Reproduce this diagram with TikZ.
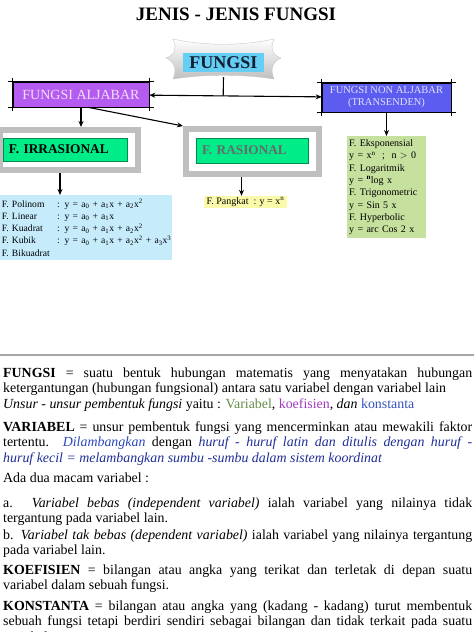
\documentclass[tikz,border=0pt]{standalone}
\usepackage{fontspec}
\setmainfont{Liberation Serif}
\usetikzlibrary{arrows.meta,calc}

\definecolor{funblue}{RGB}{100,206,245}
\definecolor{aljpurple}{RGB}{180,92,240}
\definecolor{aljtext}{RGB}{246,222,250}
\definecolor{transblue}{RGB}{92,92,240}
\definecolor{transtext}{RGB}{226,226,255}
\definecolor{tagfill}{RGB}{0,236,136}
\definecolor{tagedge}{RGB}{0,140,80}
\definecolor{ratgray}{RGB}{105,105,105}
\definecolor{algblue}{RGB}{198,236,252}
\definecolor{powyellow}{RGB}{250,250,170}
\definecolor{transgreen}{RGB}{198,224,158}
\definecolor{varcol}{RGB}{100,140,70}
\definecolor{koefcol}{RGB}{160,60,190}
\definecolor{konscol}{RGB}{50,80,190}
\definecolor{symcol}{RGB}{40,70,190}
\definecolor{navycol}{RGB}{30,45,150}
\hyphenpenalty=10000
\exhyphenpenalty=10000

\begin{document}
\begin{tikzpicture}[
  x=1pt, y=-1pt,
  >={Stealth[length=6pt,width=5pt]},
  link/.style={->,line width=1.1pt},
  wire/.style={line width=1.1pt},
  cropbox/.style={draw,line width=0.6pt,align=center,inner sep=2pt},
  framebox/.style={draw=gray!50,line width=6pt},
  tagbox/.style={draw=tagedge,line width=0.6pt,fill=tagfill,inner xsep=6pt,align=left,
    font=\fontsize{13.3}{15}\selectfont\bfseries},
  listbox/.style={anchor=north west,inner sep=2pt,align=left,font=\fontsize{10}{12.3}\selectfont},
  para/.style={anchor=north west,inner sep=0pt,text width=469pt,align=justify,
    font=\fontsize{13.9}{15.5}\selectfont}
]
\useasboundingbox (0,0) rectangle (474,632);

\node[font=\fontsize{19}{22}\selectfont\bfseries] (title) at (236,14) {JENIS - JENIS FUNGSI};

% plaque behind FUNGSI
\shade[top color=white,bottom color=gray!50,draw=gray!45,line width=0.4pt]
  (173,39) .. controls (205,46) and (242,46) .. (274,39)
  .. controls (270,48) and (272,55) .. (281,58)
  .. controls (272,62) and (270,70) .. (274,79)
  .. controls (242,74) and (205,74) .. (173,79)
  .. controls (177,70) and (175,62) .. (166,58)
  .. controls (175,55) and (177,48) .. (173,39) -- cycle;
\node[fill=funblue,minimum width=81pt,minimum height=19pt,inner sep=0pt,
  text={rgb,255:red,20;green,30;blue,50},font=\fontsize{18}{19}\selectfont\bfseries] (fun) at (223.5,62.5) {FUNGSI};

\node[cropbox,fill=aljpurple,text=aljtext,minimum width=136pt,minimum height=25pt,
  font=\fontsize{14}{16}\selectfont] (alj) at (81,94.5) {FUNGSI ALJABAR};
\node[cropbox,fill=transblue,text=transtext,minimum width=129pt,minimum height=29pt,
  font=\fontsize{10.5}{12}\selectfont] (nonalj) at (386.5,97.5) {FUNGSI NON ALJABAR\\(TRANSENDEN)};
\foreach \b in {alj,nonalj}{
  \draw[line width=0.6pt] ([xshift=-5pt]\b.north west) -- ([xshift=5pt]\b.north east);
  \draw[line width=0.6pt] ([xshift=-5pt]\b.south west) -- ([xshift=5pt]\b.south east);
  \draw[line width=0.6pt] ([yshift=4pt]\b.north west) -- ([yshift=-4pt]\b.south west);
  \draw[line width=0.6pt] ([yshift=4pt]\b.north east) -- ([yshift=-4pt]\b.south east);
}

\node[framebox,minimum width=138pt,minimum height=40pt] (irrF) at (69,150) {};
\node[tagbox,text width=112pt,minimum height=23pt] (irr) at (65,149.5) {F. IRRASIONAL};
\node[framebox,minimum width=133pt,minimum height=45pt] (ratF) at (252.5,151.5) {};
\node[tagbox,text=ratgray,text width=100pt,minimum height=25pt] (rat) at (252,150.5) {F. RASIONAL};

\node[listbox,fill=algblue,text width=172pt,inner xsep=0pt,minimum height=65pt,
  font=\fontsize{9.6}{12.3}\selectfont] (alg) at (0,195) {%
  \makebox[57pt][l]{\,F. Polinom}: y = a\textsubscript{0} + a\textsubscript{1}x + a\textsubscript{2}x\textsuperscript{2}\\
  \makebox[57pt][l]{\,F. Linear}: y = a\textsubscript{0} + a\textsubscript{1}x\\
  \makebox[57pt][l]{\,F. Kuadrat}: y = a\textsubscript{0} + a\textsubscript{1}x + a\textsubscript{2}x\textsuperscript{2}\\
  \makebox[57pt][l]{\,F. Kubik}: y = a\textsubscript{0} + a\textsubscript{1}x + a\textsubscript{2}x\textsuperscript{2} + a\textsubscript{3}x\textsuperscript{3}\\
  \,F. Bikuadrat};
\node[fill=powyellow,inner sep=1pt,minimum width=83pt,minimum height=12pt,
  font=\fontsize{10}{12}\selectfont] (pow) at (245.5,202) {F. Pangkat~~: y = x\textsuperscript{n}};
\node[listbox,fill=transgreen,text width=75pt,minimum height=102pt] (trans) at (347,136) {%
  F. Eksponensial\\
  y = x\textsuperscript{n} ~;~ n $>$ 0\\
  F. Logaritmik\\
  y = \textsuperscript{\textbf{n}}log x\\
  F. Trigonometric\\
  y = Sin 5 x\\
  F. Hyperbolic\\
  y = arc Cos 2 x};

\draw[wire] ([yshift=-5pt]fun.south) -- ($(alj.east)!([yshift=-5pt]fun.south)!(nonalj.west)$);
\draw[link,<->] (alj) -- (nonalj);
\draw[link] (alj.south) -- (alj.south |- irrF.north);
\draw[link] ([xshift=7pt]alj.south) -- (ratF.north west);
\draw[link] (nonalj) -- (nonalj |- trans.north);
\draw[link] ([xshift=-9pt]irrF.south) -- ([xshift=-9pt]irrF.south |- alg.north);
\draw[link] ([xshift=-11pt]ratF.south) -- ([xshift=-11pt]ratF.south |- pow.north);

\draw[gray!70,line width=1.2pt] (0,355) -- (474,355);

\node[para] (pFungsi) at (3,367.5) {\textbf{FUNGSI} = suatu bentuk hubungan matematis yang menyatakan hubungan\linebreak
  ketergantungan (hubungan fungsional) antara satu variabel dengan variabel lain\newline
  \textit{Unsur - unsur pembentuk fungsi} yaitu : \textcolor{varcol}{Variabel}, \textcolor{koefcol}{koefisien}, \textit{dan} \textcolor{konscol}{konstanta}};
\node[para] (pVar) at (3,421.5) {\textbf{VARIABEL} = unsur pembentuk fungsi yang mencerminkan atau mewakili faktor\linebreak
  tertentu. \textcolor{symcol}{\textit{Dilambangkan}} dengan \textcolor{navycol}{\textit{huruf - huruf latin dan ditulis dengan huruf -\linebreak
  huruf kecil = melambangkan sumbu -sumbu dalam sistem koordinat}}};
\node[para] (pAda) at (3,472.5) {Ada dua macam variabel :};
\node[para] (pBebas) at (3,497.5) {a. \textit{Variabel bebas (independent variabel)} ialah variabel yang nilainya tidak\linebreak
  tergantung pada variabel lain.};
\node[para] (pTakBebas) at (3,529.5) {b. \textit{Variabel tak bebas (dependent variabel)} ialah variabel yang nilainya tergantung\linebreak
  pada variabel lain.};
\node[para] (pKoef) at (3,564.5) {\textbf{KOEFISIEN} = bilangan atau angka yang terikat dan terletak di depan suatu\linebreak
  variabel dalam sebuah fungsi.};
\node[para] (pKons) at (3,600.5) {\textbf{KONSTANTA} = bilangan atau angka yang (kadang - kadang) turut membentuk\linebreak
  sebuah fungsi tetapi berdiri sendiri sebagai bilangan dan tidak terkait pada suatu\linebreak
  variabel.};

\end{tikzpicture}
\end{document}
